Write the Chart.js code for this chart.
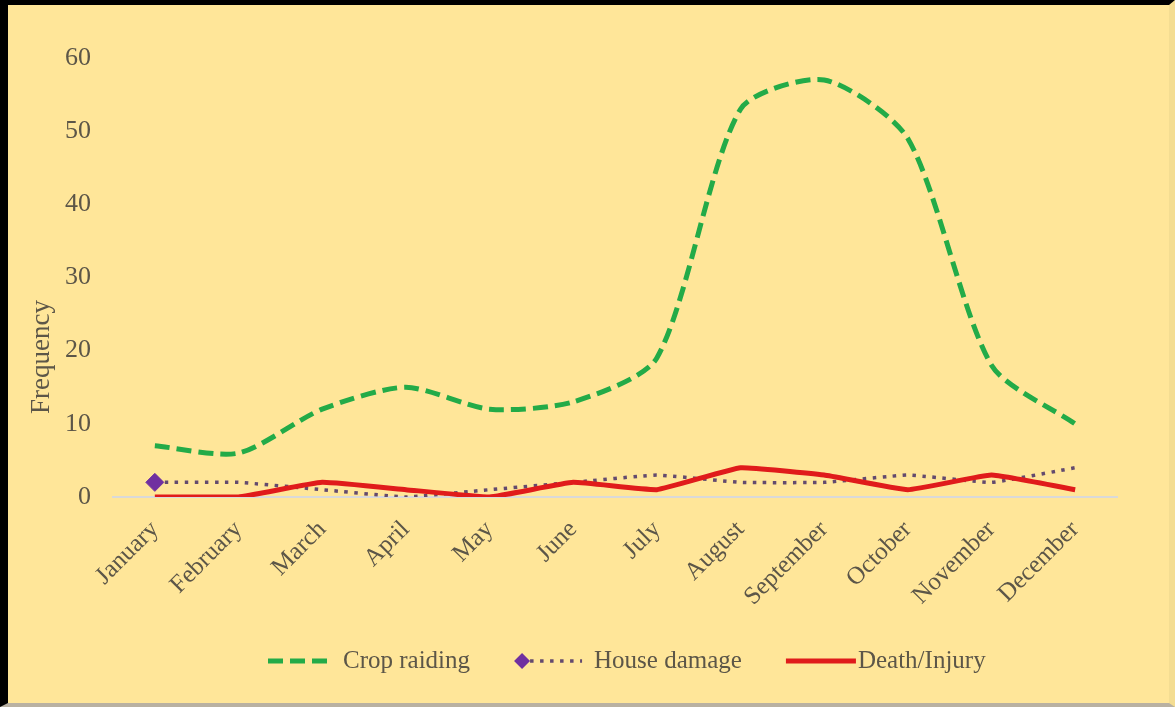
<!DOCTYPE html>
<html>
<head>
<meta charset="utf-8">
<script src="https://cdn.jsdelivr.net/npm/chart.js@4.4.1/dist/chart.umd.min.js"></script>
<style>
	html, body { margin: 0; padding: 0; background: #fff; }
	.frame { position: relative; width: 1175px; height: 707px; background: #ffe699; overflow: hidden; }
	.frame canvas { position: absolute; left: 0; top: 0; }
	.edge {
		position: absolute; inset: 0; box-sizing: border-box; pointer-events: none;
		border-top: 5px solid #000; border-left: 8px solid #000;
		border-right: 6px solid #f4dd92; border-bottom: 4px solid #b9b1a2;
	}
</style>
</head>
<body>
<div class="frame">
	<canvas id="chart" width="1175" height="707"></canvas>
	<div class="edge"></div>
</div>
<script>
const months = [
	"January", "February", "March", "April", "May", "June",
	"July", "August", "September", "October", "November", "December",
];
const cropRaiding = [7, 6, 12, 15, 12, 13, 19, 53, 57, 49, 18, 10];
const houseDamage = [2, 2, 1, 0, 1, 2, 3, 2, 2, 3, 2, 4];
const deathInjury = [0, 0, 2, 1, 0, 2, 1, 4, 3, 1, 3, 1];
const yTicks = [0, 10, 20, 30, 40, 50, 60];

const textColor = "#5c5648";
const serif = "'Liberation Serif', 'Times New Roman', serif";
const green = "#23ab48";
const purple = "#7030a0";
const dotColor = "#634a6e";
const red = "#e01b1b";

// legend samples, drawn by hand to look like the Excel one
const legendItems = [
	{
		label: "Crop raiding",
		width: 62,
		gap: 13,
		sample: (ctx, x, y, w) => {
			ctx.strokeStyle = green;
			ctx.lineWidth = 5;
			ctx.setLineDash([15, 7]);
			ctx.beginPath();
			ctx.moveTo(x, y);
			ctx.lineTo(x + w, y);
			ctx.stroke();
		},
	},
	{
		label: "House damage",
		width: 68,
		gap: 12,
		sample: (ctx, x, y, w) => {
			ctx.strokeStyle = dotColor;
			ctx.lineWidth = 3.5;
			ctx.setLineDash([3.5, 6.5]);
			ctx.beginPath();
			ctx.moveTo(x + 16, y);
			ctx.lineTo(x + w, y);
			ctx.stroke();
			ctx.setLineDash([]);
			ctx.fillStyle = purple;
			ctx.beginPath();
			ctx.moveTo(x + 8, y - 8);
			ctx.lineTo(x + 16, y);
			ctx.lineTo(x + 8, y + 8);
			ctx.lineTo(x, y);
			ctx.closePath();
			ctx.fill();
		},
	},
	{
		label: "Death/Injury",
		width: 70,
		gap: 2,
		sample: (ctx, x, y, w) => {
			ctx.strokeStyle = red;
			ctx.lineWidth = 5;
			ctx.setLineDash([]);
			ctx.beginPath();
			ctx.moveTo(x, y);
			ctx.lineTo(x + w, y);
			ctx.stroke();
		},
	},
];

const extraText = {
	id: "extraText",
	afterDraw(chart) {
		const { ctx } = chart;
		ctx.save();
		ctx.font = `25px ${serif}`;
		ctx.textBaseline = "middle";
		ctx.fillStyle = textColor;
		const y = 661;
		let x = 268;
		legendItems.forEach(item => {
			ctx.save();
			item.sample(ctx, x, y, item.width);
			ctx.restore();
			x += item.width + item.gap;
			ctx.fillStyle = textColor;
			ctx.fillText(item.label, x, y);
			x += ctx.measureText(item.label).width + 44;
		});

		// y axis title, sits lower than the middle like the original
		ctx.font = `27px ${serif}`;
		ctx.textAlign = "center";
		ctx.translate(42, 357);
		ctx.rotate(-Math.PI / 2);
		ctx.fillText("Frequency", 0, 0);
		ctx.restore();
	},
};

const config = {
	type: "line",
	plugins: [extraText],
	data: {
		labels: months,
		datasets: [
			{
				label: "Death/Injury",
				data: deathInjury,
				borderColor: red,
				borderWidth: 5,
				tension: 0.1,
				pointRadius: 0,
				borderJoinStyle: "round",
				order: 1,
			},
			{
				label: "House damage",
				data: houseDamage,
				borderColor: dotColor,
				borderWidth: 3.5,
				borderDash: [3.5, 6.5],
				tension: 0.1,
				pointStyle: "rectRot",
				pointRadius: ctx => (ctx.dataIndex === 0 ? 9 : 0),
				pointBackgroundColor: purple,
				pointBorderColor: purple,
				pointBorderWidth: 1,
				order: 2,
			},
			{
				label: "Crop raiding",
				data: cropRaiding,
				borderColor: green,
				borderWidth: 5,
				borderDash: [15, 7],
				tension: 0.25,
				pointRadius: 0,
				order: 3,
			},
		],
	},
	options: {
		responsive: false,
		animation: false,
		layout: { padding: { top: 58, right: 58, bottom: 100, left: 12 } },
		plugins: {
			legend: { display: false },
			tooltip: { enabled: false },
		},
		scales: {
			x: {
				offset: true,
				grid: { display: false, drawTicks: false },
				border: { display: true, color: "#d9d9d9", width: 2 },
				ticks: {
					color: textColor,
					font: { family: serif, size: 25 },
					maxRotation: 45,
					minRotation: 45,
					padding: 18,
					autoSkip: false,
				},
				afterFit: scale => (scale.height = 110),
			},
			y: {
				min: 0,
				max: 60,
				afterBuildTicks: scale => (scale.ticks = yTicks.map(value => ({ value }))),
				grid: { display: false, drawTicks: false },
				border: { display: false },
				ticks: {
					color: textColor,
					font: { family: serif, size: 26 },
					padding: 22,
				},
				afterFit: scale => (scale.width = 101),
			},
		},
	},
};

new Chart(document.getElementById("chart"), config);
</script>
</body>
</html>
